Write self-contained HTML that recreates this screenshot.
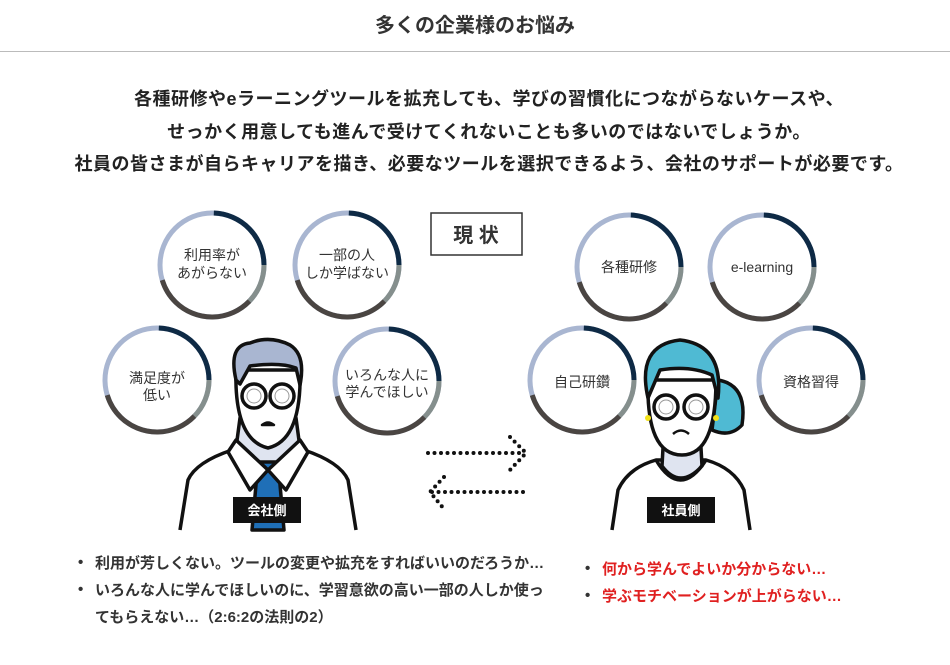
<!DOCTYPE html>
<html><head><meta charset="utf-8"><style>
body{margin:0;width:950px;height:665px;background:#fff;position:relative;overflow:hidden;font-family:"Liberation Sans","Noto Sans CJK JP",sans-serif;color:#222}
.t{position:absolute;left:0;width:950px;text-align:center;white-space:nowrap}
.h{top:9px;font-size:20px;font-weight:bold;color:#333}
.p{font-size:18px;font-weight:bold;color:#222;letter-spacing:0.5px;left:14px}
.b{position:absolute;font-size:15px;font-weight:bold;white-space:nowrap;color:#333}
.b .d{position:absolute;left:-17px;top:2px;color:#333}
.r{color:#e02020}
</style></head><body>
<div class="t h">多くの企業様のお悩み</div>
<div style="position:absolute;left:0;top:51px;width:950px;height:1px;background:#bbb"></div>
<div class="t p" style="top:85px">各種研修やeラーニングツールを拡充しても、学びの習慣化につながらないケースや、</div>
<div class="t p" style="top:118px">せっかく用意しても進んで受けてくれないことも多いのではないでしょうか。</div>
<div class="t p" style="top:150px">社員の皆さまが自らキャリアを描き、必要なツールを選択できるよう、会社のサポートが必要です。</div>

<svg width="950" height="665" style="position:absolute;left:0;top:0" font-family="Liberation Sans, Noto Sans CJK JP, sans-serif">
<defs>
<g id="ring">
<circle r="52" fill="#fff" stroke="#a9b6d1" stroke-width="5"/>
<circle r="52" fill="none" stroke="#0e2a45" stroke-width="5" stroke-dasharray="80 247" transform="rotate(-88)"/>
<circle r="52" fill="none" stroke="#858f8d" stroke-width="5" stroke-dasharray="40 287" transform="rotate(0)"/>
<circle r="52" fill="none" stroke="#4a4542" stroke-width="5" stroke-dasharray="108 219" transform="rotate(44)"/>
</g>
</defs>
<rect x="431" y="213" width="91" height="42" fill="#fff" stroke="#333" stroke-width="1.5"/>
<text x="476" y="242" text-anchor="middle" font-size="20" font-weight="bold" fill="#333">現 状</text>

<g font-size="14" fill="#333" text-anchor="middle">
<use href="#ring" x="212" y="265"/><text x="212" y="260">利用率が</text><text x="212" y="278">あがらない</text>
<use href="#ring" x="347" y="265"/><text x="347" y="260">一部の人</text><text x="347" y="278">しか学ばない</text>
<use href="#ring" x="157" y="380"/><text x="157" y="383">満足度が</text><text x="157" y="400">低い</text>
<use href="#ring" x="387" y="381"/><text x="387" y="380">いろんな人に</text><text x="387" y="397">学んでほしい</text>
<use href="#ring" x="629" y="267"/><text x="629" y="272">各種研修</text>
<use href="#ring" x="762" y="267"/><text x="762" y="272">e-learning</text>
<use href="#ring" x="582" y="380"/><text x="582" y="387">自己研鑽</text>
<use href="#ring" x="811" y="380"/><text x="811" y="387">資格習得</text>
</g>

<!-- man -->
<g stroke="#111" stroke-width="3.5" fill="#fff" stroke-linejoin="round">
<path d="M180 530 L188 480 Q196 462 232 450 L268 444 L304 450 Q340 462 348 480 L356 530"/>
<path d="M240 418 L236 448 L268 470 L300 448 L296 418 Z" fill="#dfe4f0"/>
<path d="M258 462 L278 462 L284 530 L252 530 Z" fill="#1f6fb7"/>
<path d="M236 440 L268 470 L250 490 L228 452 Z"/>
<path d="M300 440 L268 470 L286 490 L308 452 Z"/>
<path d="M236 370 Q234 440 268 448 Q302 440 300 370 Z"/>
<path d="M236 380 Q228 345 250 343 Q270 335 290 345 Q306 355 300 385 L296 368 Q280 362 250 366 L240 384 Z" fill="#a9b6d1"/>
<circle cx="254" cy="396" r="12"/><circle cx="282" cy="396" r="12"/>
<circle cx="254" cy="396" r="7" stroke="#999" stroke-width="1"/><circle cx="282" cy="396" r="7" stroke="#999" stroke-width="1"/>
<path d="M262 425 Q268 420 274 425 Z" stroke-width="2.5" fill="#111"/>
</g>
<rect x="233" y="497" width="68" height="26" fill="#111"/>
<text x="267" y="515" text-anchor="middle" font-size="13" font-weight="bold" fill="#fff">会社側</text>

<!-- woman -->
<g stroke="#111" stroke-width="3.5" fill="#fff" stroke-linejoin="round">
<path d="M612 530 L618 490 Q628 468 656 460 L706 460 Q734 468 744 490 L750 530"/>
<path d="M664 430 L662 466 Q680 490 702 466 L700 430 Z" fill="#dfe4f0"/>
<path d="M656 460 Q680 500 706 460" fill="none"/>
<path d="M718 380 Q748 385 742 425 Q730 438 712 430 Z" fill="#4fbad3"/>
<path d="M648 380 Q646 455 682 455 Q716 455 716 380 Z"/>
<path d="M648 398 Q636 345 680 340 Q724 345 718 398 L712 375 Q690 365 660 370 Z" fill="#4fbad3"/>
<circle cx="666" cy="407" r="12"/><circle cx="696" cy="407" r="12"/>
<circle cx="666" cy="407" r="7" stroke="#999" stroke-width="1"/><circle cx="696" cy="407" r="7" stroke="#999" stroke-width="1"/>
<path d="M673 434 Q681 427 689 434" fill="none" stroke-width="2.5"/>
</g>
<circle cx="648" cy="418" r="3" fill="#f2e21a"/><circle cx="716" cy="418" r="3" fill="#f2e21a"/>
<rect x="647" y="497" width="68" height="26" fill="#111"/>
<text x="681" y="515" text-anchor="middle" font-size="13" font-weight="bold" fill="#fff">社員側</text>

<!-- arrows -->
<g stroke="#111" stroke-width="4" stroke-linecap="round" stroke-dasharray="0 6.5" fill="none">
<path d="M428 453 L525 453"/>
<path d="M510 437 L526 453 L510 470"/>
<path d="M432 492 L524 492"/>
<path d="M444 477 L430 492 L444 509"/>
</g>
</svg>

<div class="b" style="left:95px;top:552px"><span class="d">•</span>利用が芳しくない。ツールの変更や拡充をすればいいのだろうか…</div>
<div class="b" style="left:95px;top:579px"><span class="d">•</span>いろんな人に学んでほしいのに、学習意欲の高い一部の人しか使っ</div>
<div class="b" style="left:95px;top:606px">てもらえない…（2:6:2の法則の2）</div>
<div class="b r" style="left:602px;top:558px"><span class="d">•</span>何から学んでよいか分からない…</div>
<div class="b r" style="left:602px;top:585px"><span class="d">•</span>学ぶモチベーションが上がらない…</div>
</body></html>
